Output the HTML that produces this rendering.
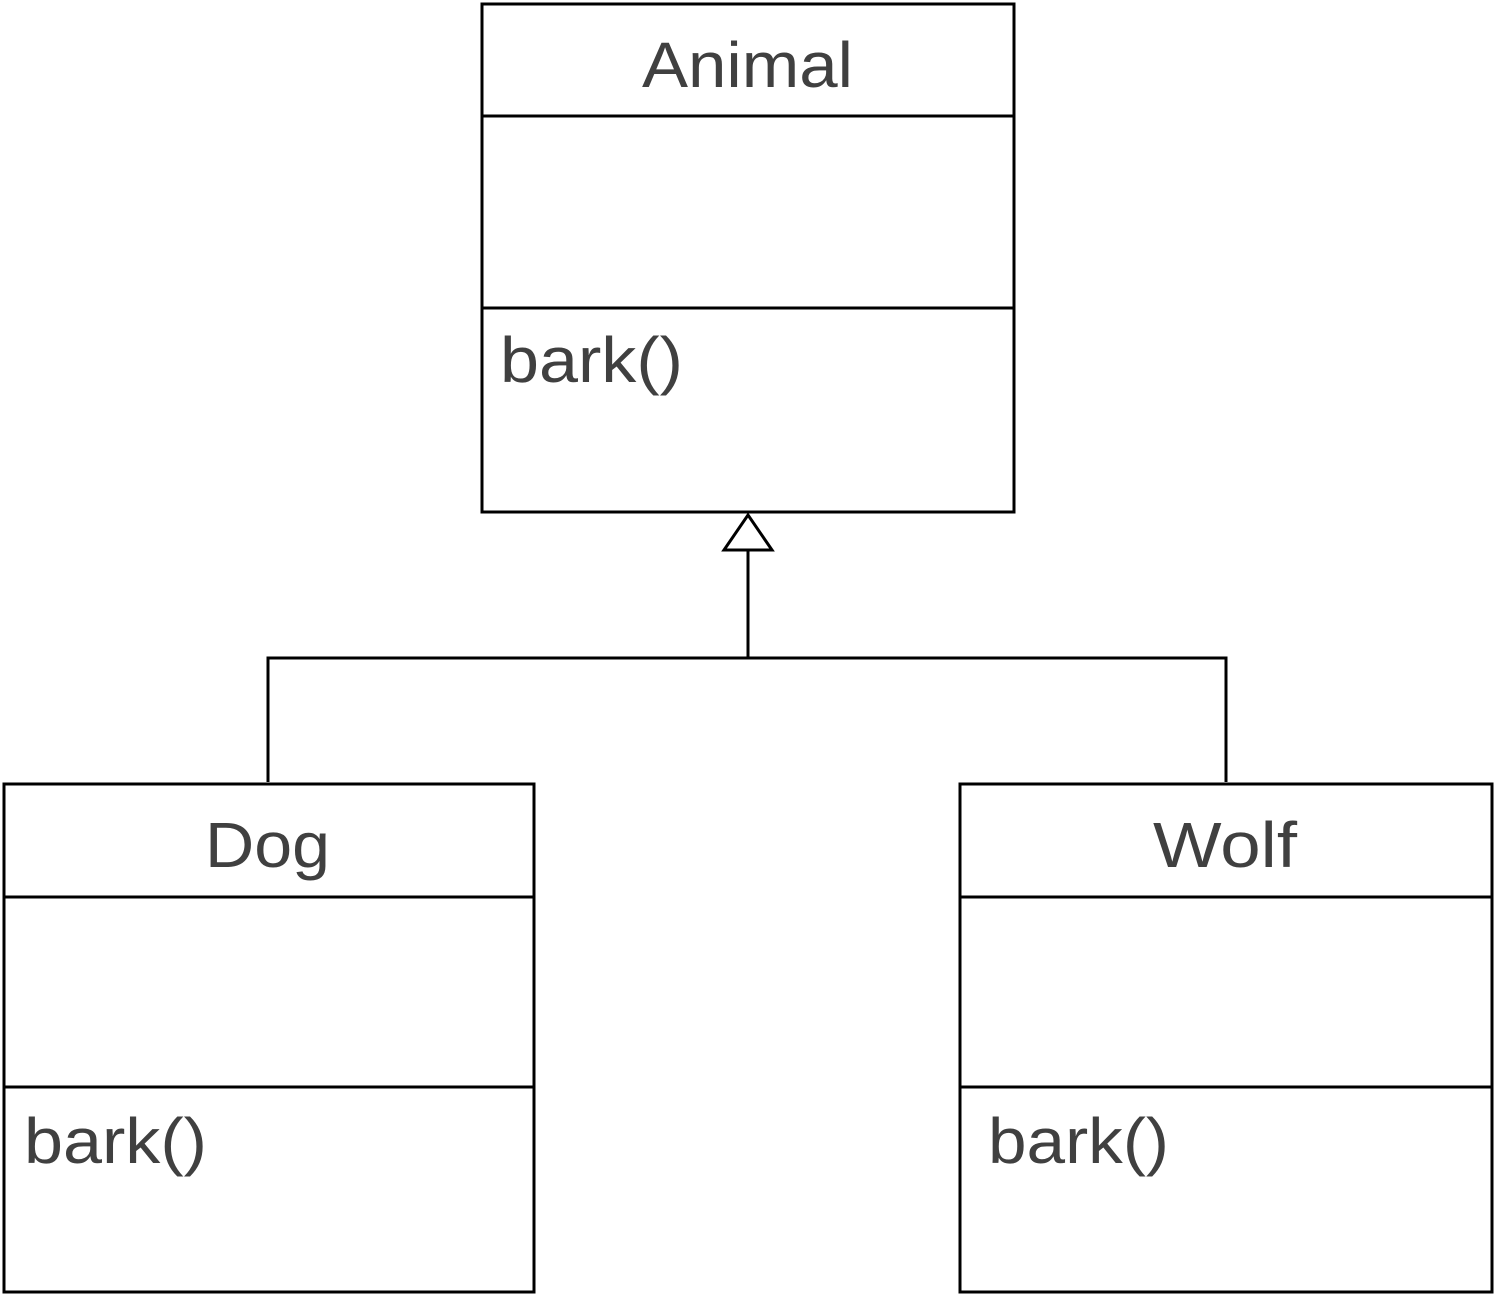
<!DOCTYPE html>
<html><head><meta charset="utf-8"><style>html,body{margin:0;padding:0;background:#fff}svg{display:block}</style></head>
<body>
<svg width="1496" height="1296" viewBox="0 0 1496 1296" xmlns="http://www.w3.org/2000/svg">
<g fill="none" stroke="#000" stroke-width="3">
<rect x="482" y="4" width="532" height="508"/>
<line x1="482" y1="116" x2="1014" y2="116"/>
<line x1="482" y1="308" x2="1014" y2="308"/>
<rect x="4" y="784" width="530" height="508"/>
<line x1="4" y1="897" x2="534" y2="897"/>
<line x1="4" y1="1087" x2="534" y2="1087"/>
<rect x="960" y="784" width="532" height="508"/>
<line x1="960" y1="897" x2="1492" y2="897"/>
<line x1="960" y1="1087" x2="1492" y2="1087"/>
<polyline points="268,782 268,658 1226,658 1226,782"/>
<line x1="748" y1="658" x2="748" y2="550"/>
<polygon points="748,515 772,550 724,550" fill="#fff"/>
</g>
<g font-family="Liberation Sans, sans-serif" font-size="64" fill="#404040">
<text x="642" y="87" textLength="211" lengthAdjust="spacingAndGlyphs">Animal</text>
<text x="500" y="382" textLength="183" lengthAdjust="spacingAndGlyphs">bark()</text>
<text x="205" y="867" textLength="125" lengthAdjust="spacingAndGlyphs">Dog</text>
<text x="24" y="1163" textLength="183" lengthAdjust="spacingAndGlyphs">bark()</text>
<text x="1153" y="867" textLength="144" lengthAdjust="spacingAndGlyphs">Wolf</text>
<text x="988" y="1163" textLength="181" lengthAdjust="spacingAndGlyphs">bark()</text>
</g>
</svg>
</body></html>
